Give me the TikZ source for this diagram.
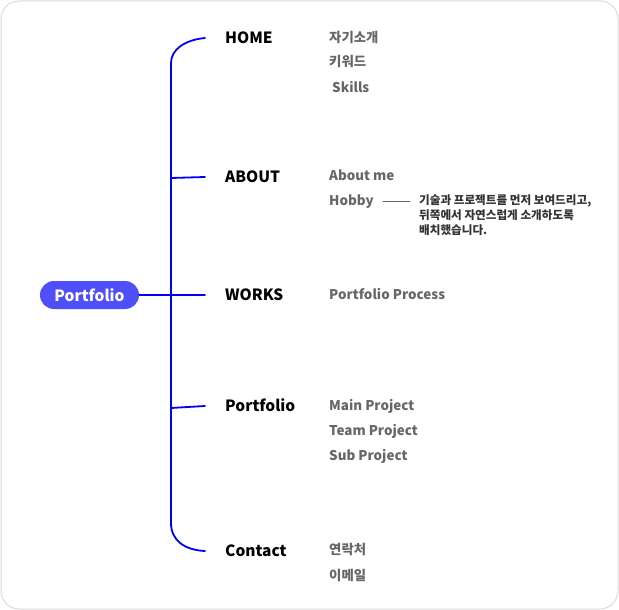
\documentclass[tikz,border=0pt]{standalone}
\usepackage{fontspec}
\setmainfont{Noto Sans CJK KR}
\usetikzlibrary{positioning}
\definecolor{bbbbff}{rgb}{0.31,0.31,0.98}
\definecolor{qqqqff}{rgb}{0.,0.,1.}
\definecolor{subgray}{rgb}{0.4,0.4,0.4}
\definecolor{notegray}{rgb}{0.2,0.2,0.2}
\definecolor{framegray}{rgb}{0.86,0.86,0.86}
\tikzset{
	menu/.style={anchor=west,inner sep=0pt,text height=11.4pt,text depth=0pt,font=\fontsize{15.5}{18}\selectfont\bfseries,text=black},
	item/.style={anchor=west,inner sep=0pt,text height=9.8pt,text depth=0pt,font=\fontsize{13.4}{16}\selectfont\bfseries,text=subgray},
	branch/.style={draw=qqqqff,line width=1.8pt}
}
\begin{document}
\begin{tikzpicture}[line cap=round,line join=round,x=1pt,y=-1pt]
	\useasboundingbox (0,0) rectangle (619,610);
	\draw[framegray,line width=1pt,rounded corners=18pt] (1,1) rectangle (618,609);
	% root
	\node[fill=bbbbff,rounded corners=14pt,minimum width=99pt,minimum height=28pt,inner sep=0pt,text=white,font=\fontsize{15.5}{18}\selectfont\bfseries] (root) at (89.5,295) {Portfolio};
	% menus
	\node[menu] (home) at (225,38) {HOME};
	\node[menu] (about) at (225,177) {ABOUT};
	\node[menu] (works) at (225,295) {WORKS};
	\node[menu] (port) at (225,406) {Portfolio};
	\node[menu] (contact) at (225,551) {Contact};
	% branches
	\draw[branch] (root.east) -- ([xshift=-20pt]works.west);
	\draw[branch] ([xshift=-20pt]home.west) .. controls (184,40) and (171,50) .. (171,63) -- (171,523) .. controls (171,540) and (184,550) .. ([xshift=-20pt]contact.west);
	\draw[branch] (171,178) -- ([xshift=-20pt]about.west);
	\draw[branch] (171,408) -- ([xshift=-20pt]port.west);
	% items
	\node[item] (home1) at (329,38) {자기소개};
	\node[item] (home2) at (329,62) {키워드};
	\node[item] (home3) at (332,88) {Skills};
	\node[item] (about1) at (329,176) {About me};
	\node[item] (about2) at (329,201) {Hobby};
	\node[item] (works1) at (329,295) {Portfolio Process};
	\node[item] (port1) at (329,406) {Main Project};
	\node[item] (port2) at (329,431) {Team Project};
	\node[item] (port3) at (329,456) {Sub Project};
	\node[item] (contact1) at (329,550) {연락처};
	\node[item] (contact2) at (329,576) {이메일};
	% note
	\node[anchor=north west,inner sep=0pt,align=left,text=notegray,font=\fontsize{11.6}{15}\selectfont\bfseries] (note) at (419,194) {기술과 프로젝트를 먼저 보여드리고,\\뒤쪽에서 자연스럽게 소개하도록\\배치했습니다.};
	\draw[subgray,line width=0.8pt] ([xshift=9pt]about2.east) -- ([xshift=-9pt]note.west |- about2.east);
\end{tikzpicture}
\end{document}
